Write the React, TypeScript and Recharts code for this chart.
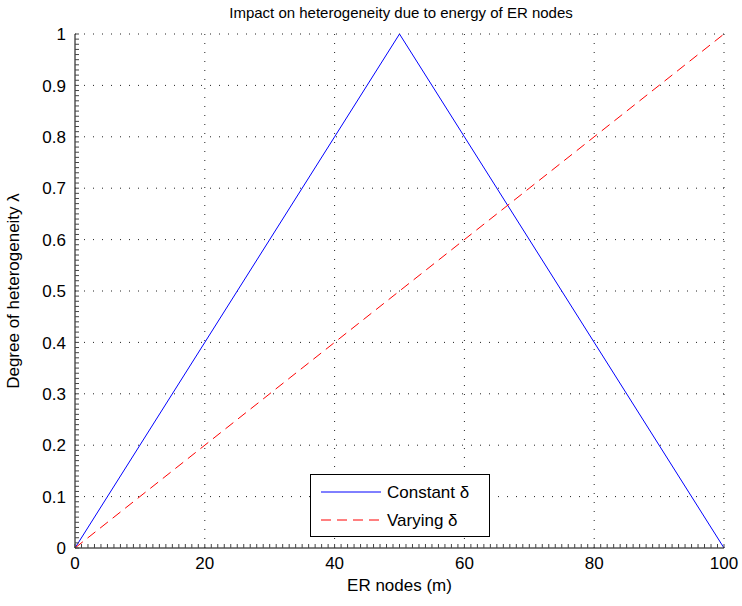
import { LineChart, Line, XAxis, YAxis, ReferenceLine } from "recharts";

const X_NODES = [0, 50, 100];
const CONSTANT_DELTA = [0, 1, 0];
const VARYING_DELTA = [0, 0.5, 1];

const X_MAJOR = [0, 20, 40, 60, 80, 100];
const Y_MAJOR = [0, 0.1, 0.2, 0.3, 0.4, 0.5, 0.6, 0.7, 0.8, 0.9, 1];
const Y_LABELS = ["0", "0.1", "0.2", "0.3", "0.4", "0.5", "0.6", "0.7", "0.8", "0.9", "1"];
const SERIES_NAMES = ["Constant δ", "Varying δ"];

// minor ticks, MATLAB style
const X_MINOR = Array.from({ length: 101 }, (_, i) => i);
const Y_MINOR = Array.from({ length: 101 }, (_, i) => i / 100);

const data = X_NODES.map((m, i) => ({
  m,
  constant: CONSTANT_DELTA[i],
  varying: VARYING_DELTA[i],
}));

const FONT = "'Liberation Sans', Arial, Helvetica, sans-serif";
const GRID = { stroke: "#222", strokeDasharray: "1 8", strokeWidth: 1 };

const XTick = ({ x, y, payload }: any) => {
  const v = payload.value;
  const major = X_MAJOR.includes(v);
  return (
    <g>
      <line x1={x} x2={x} y1={y} y2={y - 4} stroke="#444" />
      {major && (
        <text x={x} y={y + 21} textAnchor="middle" fontSize={17} fill="#000" fontFamily={FONT}>
          {v}
        </text>
      )}
    </g>
  );
};

const YTick = ({ x, y, payload }: any) => {
  const v = payload.value;
  const idx = Y_MAJOR.findIndex((t) => Math.abs(t - v) < 1e-6);
  return (
    <g>
      <line x1={x} x2={x + 4} y1={y} y2={y} stroke="#444" />
      {idx >= 0 && (
        <text x={x - 9} y={y} dy="0.36em" textAnchor="end" fontSize={17} fill="#000" fontFamily={FONT}>
          {Y_LABELS[idx]}
        </text>
      )}
    </g>
  );
};

const LegendBox = () => (
  <div
    style={{
      position: "absolute",
      left: 310,
      top: 474,
      width: 180,
      height: 63,
      border: "1px solid #000",
      background: "#fff",
      boxSizing: "border-box",
    }}
  >
    <svg width={178} height={61} style={{ display: "block" }}>
      <line x1={10} x2={70} y1={17} y2={17} stroke="#0000ff" />
      <text x={76} y={17} dy="0.36em" fontSize={17} fontFamily={FONT}>
        {SERIES_NAMES[0]}
      </text>
      <line x1={10} x2={70} y1={45} y2={45} stroke="#ff0000" strokeDasharray="10 6" />
      <text x={76} y={45} dy="0.36em" fontSize={17} fontFamily={FONT}>
        {SERIES_NAMES[1]}
      </text>
    </svg>
  </div>
);

const App = () => (
  <div style={{ position: "absolute", left: 0, top: 0, width: 742, height: 606, background: "#fff" }}>
    <LineChart width={742} height={606} data={data} margin={{ top: 34, right: 18, left: 15, bottom: 18 }}>
      <XAxis
        dataKey="m"
        type="number"
        domain={[0, 100]}
        ticks={X_MINOR}
        interval={0}
        tick={<XTick />}
        tickLine={false}
        tickSize={0}
        tickMargin={0}
        height={40}
        axisLine={{ stroke: "#000" }}
        label={{ value: "ER nodes (m)", position: "insideBottom", offset: -3, fontSize: 17, fill: "#000", fontFamily: FONT }}
      />
      <YAxis
        type="number"
        domain={[0, 1]}
        ticks={Y_MINOR}
        interval={0}
        tick={<YTick />}
        tickLine={false}
        tickSize={0}
        tickMargin={0}
        width={60}
        axisLine={{ stroke: "#000" }}
        label={{
          value: "Degree of heterogeneity λ",
          angle: -90,
          position: "insideLeft",
          offset: -2,
          style: { textAnchor: "middle" },
          fontSize: 17,
          fill: "#000",
          fontFamily: FONT,
        }}
      />
      {X_MAJOR.filter((v) => v > 0).map((v) => (
        <ReferenceLine key={"x" + v} x={v} {...GRID} />
      ))}
      {Y_MAJOR.filter((v) => v > 0).map((v) => (
        <ReferenceLine key={"y" + v} y={v} {...GRID} />
      ))}
      <Line type="linear" dataKey="constant" name={SERIES_NAMES[0]} stroke="#0000ff" strokeWidth={1} dot={false} isAnimationActive={false} />
      <Line
        type="linear"
        dataKey="varying"
        name={SERIES_NAMES[1]}
        stroke="#ff0000"
        strokeWidth={1}
        strokeDasharray="10 6"
        dot={false}
        isAnimationActive={false}
      />
      <text x={401} y={13} dy="0.36em" textAnchor="middle" fontSize={15} fill="#000" fontFamily={FONT}>
        Impact on heterogeneity due to energy of ER nodes
      </text>
    </LineChart>
    <LegendBox />
  </div>
);

export default App;
